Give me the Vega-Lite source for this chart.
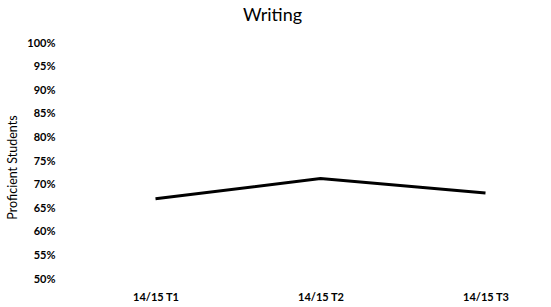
{
  "$schema": "https://vega.github.io/schema/vega-lite/v6.json",
  "autosize": "none",
  "width": 495,
  "height": 236,
  "padding": {"left": 73, "top": 43, "right": 0, "bottom": 28},
  "background": "white",
  "config": {"view": {"stroke": null}, "font": "Lato"},
  "title": {"text": "Writing", "fontSize": 18, "fontWeight": "normal", "font": "Lato", "color": "#000", "dx": -48, "offset": 12},
  "data": {"values": [
    {"term": "14/15 T1", "pct": 67.0},
    {"term": "14/15 T2", "pct": 71.3},
    {"term": "14/15 T3", "pct": 68.2}
  ]},
  "mark": {"type": "line", "color": "#000", "strokeWidth": 3},
  "encoding": {
    "x": {"field": "term", "type": "ordinal", "sort": null,
      "scale": {"type": "point", "padding": 0.5},
      "axis": {"title": null, "domain": false, "ticks": false, "labelAngle": 0, "labelPadding": 12, "labelFontSize": 11, "labelFontWeight": "bold", "labelColor": "#000", "grid": false}},
    "y": {"field": "pct", "type": "quantitative",
      "scale": {"domain": [50, 100], "nice": false, "zero": false},
      "axis": {"title": "Proficient Students", "values": [50,55,60,65,70,75,80,85,90,95,100], "labelExpr": "datum.value + '%'", "domain": false, "ticks": false, "grid": false, "labelPadding": 18, "labelFontSize": 11, "labelFontWeight": "bold", "labelColor": "#000", "titleFontSize": 12.5, "titleFontWeight": "normal", "titleColor": "#000", "titlePadding": 7, "titleY": 124}}
  }
}
